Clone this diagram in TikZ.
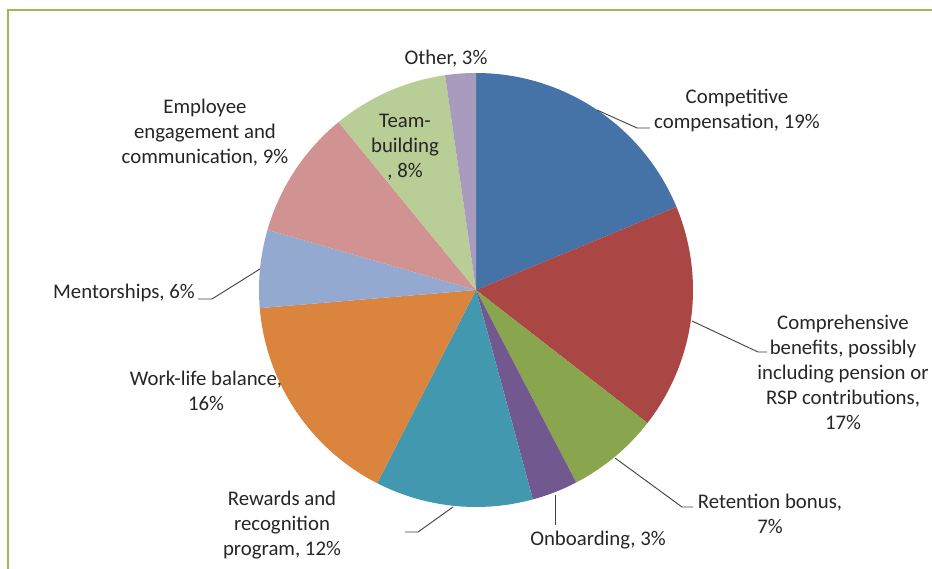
\documentclass[tikz,border=0pt]{standalone}
\usepackage{fontspec}
\setmainfont{Carlito}
\definecolor{sblue}{HTML}{4572A7}
\definecolor{sred}{HTML}{AA4643}
\definecolor{sgreen}{HTML}{89A54E}
\definecolor{spurple}{HTML}{71588F}
\definecolor{steal}{HTML}{4198AF}
\definecolor{sorange}{HTML}{DB843D}
\definecolor{slblue}{HTML}{93A9CF}
\definecolor{spink}{HTML}{D19392}
\definecolor{slgreen}{HTML}{B9CD96}
\definecolor{slilac}{HTML}{A99BBD}
\definecolor{framegreen}{HTML}{9BBB59}
\tikzset{
    lbl/.style={inner sep=0pt, align=center, text=black!85, font=\fontsize{20.8}{25}\selectfont},
    leader/.style={draw=black!75, line width=0.9pt}
}
\begin{document}
\begin{tikzpicture}[x=1pt, y=1pt]
    \clip (0,0) rectangle (932,568);
    \fill[white] (0,0) rectangle (932,568);
    % Chart frame
    \draw[framegreen, line width=2pt] (8,-5) -- (8,558) -- (940,558);

    % Slices, clockwise from the top
    \coordinate (c) at (476,278);
    \foreach \a/\b/\col in {90/22.5/sblue, 22.5/-37.8/sred, -37.8/-62.5/sgreen,
        -62.5/-74.8/spurple, -74.8/-117.1/steal, -117.1/-175.2/sorange,
        -175.2/-196.1/slblue, -196.1/-230.7/spink, -230.7/-261.8/slgreen,
        -261.8/-270/slilac}{
        \fill[\col] (c) -- ++(\a:217) arc[start angle=\a, end angle=\b, radius=217] -- cycle;
    }

    % Labels
    \node[lbl] (other) at (446,509) {Other, 3\%};
    \node[lbl] (comp) at (737,457.5) {Competitive\\compensation, 19\%};
    \node[lbl] (bene) at (843,196) {Comprehensive\\benefits, possibly\\including pension or\\RSP contributions,\\17\%};
    \node[lbl] (reten) at (770,54.5) {Retention bonus,\\7\%};
    \node[lbl] (onb) at (598,28) {Onboarding, 3\%};
    \node[lbl] (rew) at (282,43) {Rewards and\\recognition\\program, 12\%};
    \node[lbl] (work) at (206,177.5) {Work-life balance,\\16\%};
    \node[lbl] (ment) at (124,275) {Mentorships, 6\%};
    \node[lbl] (empl) at (205,435) {Employee\\engagement and\\communication, 9\%};
    \node[lbl] (team) at (405,421) {Team-\\building\\, 8\%};

    % Leader lines
    \coordinate (mcomp) at (597,458);   \coordinate (kcomp) at (637,440);   \coordinate (ecomp) at (650,440);
    \coordinate (mbene) at (692,247);   \coordinate (kbene) at (758,216);   \coordinate (ebene) at (767,216);
    \coordinate (mreten) at (615,110);  \coordinate (kreten) at (682,61);   \coordinate (ereten) at (693,61);
    \coordinate (monb) at (555,73);     \coordinate (eonb) at (555,43);
    \coordinate (mrew) at (453,61);     \coordinate (krew) at (418,36);     \coordinate (erew) at (405,36);
    \coordinate (mment) at (260,299);   \coordinate (kment) at (212,269);   \coordinate (ement) at (198,269);
    \draw[leader] (mcomp) -- (kcomp) -- (ecomp);
    \draw[leader] (mbene) -- (kbene) -- (ebene);
    \draw[leader] (mreten) -- (kreten) -- (ereten);
    \draw[leader] (monb) -- (eonb);
    \draw[leader] (mrew) -- (krew) -- (erew);
    \draw[leader] (mment) -- (kment) -- (ement);
\end{tikzpicture}
\end{document}
